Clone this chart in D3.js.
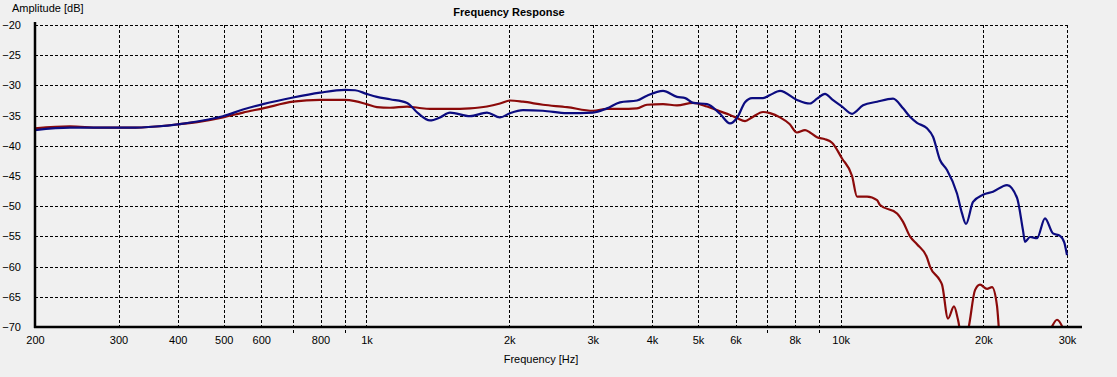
<!DOCTYPE html>
<html>
<head>
<meta charset="utf-8">
<script src="https://cdn.jsdelivr.net/npm/d3@7/dist/d3.min.js"></script>
<style>
  html, body { margin: 0; padding: 0; background: #f0f0f0; }
  svg { display: block; }
  text { font-family: "Liberation Sans", Arial, sans-serif; font-size: 11px; fill: #000; }
</style>
</head>
<body>
<svg id="chart" width="1117" height="377"></svg>
<script>
// ---- Data ----
const chartTitle = "Frequency Response";
const yAxisTitle = "Amplitude [dB]";
const xAxisTitle = "Frequency [Hz]";

const yTicks = [-20, -25, -30, -35, -40, -45, -50, -55, -60, -65, -70];
const xLabelFreqs = [200, 300, 400, 500, 600, 800, 1000, 2000, 3000, 4000, 5000, 6000, 8000, 10000, 20000, 30000];
const xLabelTexts = ["200", "300", "400", "500", "600", "800", "1k", "2k", "3k", "4k", "5k", "6k", "8k", "10k", "20k", "30k"];
const xMinorFreqs = [700, 900, 7000, 9000];
const xGridFreqs = [300, 400, 500, 600, 700, 800, 900, 1000, 2000, 3000, 4000, 5000, 6000, 7000, 8000, 9000, 10000, 20000, 30000];

const blueFreq = [200, 237, 274, 317, 360, 404, 446, 498, 549, 605, 700, 798, 901, 946, 1000, 1052, 1121, 1218, 1284, 1361, 1429, 1500, 1653, 1795, 1912, 2007, 2138, 2356, 2647, 3004, 3215, 3424, 3719, 3904, 4220, 4516, 4700, 4881, 5225, 5565, 5841, 6043, 6283, 6500, 6857, 7094, 7447, 8087, 8408, 8615, 8913, 9266, 9588, 10064, 10566, 11144, 11929, 12892, 13534, 13998, 14482, 15202, 15653, 16193, 16753, 17587, 18020, 18373, 19010, 19953, 20946, 22420, 23534, 24228, 24470, 25070, 25934, 26960, 28020, 29000, 29600, 30000];
const blueDb = [-37.4, -37.0, -37.0, -37.0, -36.8, -36.4, -35.9, -35.1, -34.0, -33.1, -32.0, -31.2, -30.75, -30.8, -31.4, -31.9, -32.3, -32.9, -34.6, -35.8, -35.3, -34.5, -35.1, -34.5, -35.3, -34.6, -34.1, -34.2, -34.6, -34.5, -33.8, -32.8, -32.5, -31.7, -30.9, -31.9, -32.1, -32.9, -33.1, -34.7, -36.3, -35.4, -32.8, -32.1, -32.1, -31.6, -30.9, -32.4, -32.9, -33.0, -32.2, -31.4, -32.3, -33.5, -34.7, -33.3, -32.7, -32.2, -33.8, -35.2, -36.2, -37.1, -38.5, -42.35, -44.0, -47.9, -51.2, -52.95, -49.3, -48.1, -47.6, -46.5, -48.6, -54.0, -55.9, -55.1, -55.3, -52.0, -54.5, -54.9, -56.0, -58.1];

const redFreq = [200, 237, 274, 317, 360, 404, 446, 498, 549, 605, 700, 798, 901, 946, 1000, 1052, 1121, 1218, 1284, 1361, 1500, 1653, 1795, 1912, 2007, 2138, 2356, 2647, 3004, 3215, 3424, 3719, 3904, 4220, 4516, 4881, 5225, 5565, 5841, 6043, 6283, 6500, 6857, 7094, 7447, 7800, 8087, 8408, 8615, 8913, 9266, 9588, 10064, 10566, 10825, 11364, 11929, 12103, 13146, 13534, 13998, 14482, 15202, 15426, 16193, 16353, 16835, 17332, 17672, 18020, 18552, 19194, 19666, 20346, 20844, 21356, 21670, 23000, 26000, 26960, 27760, 28580, 29428, 30000];
const redDb = [-37.1, -36.8, -37.0, -37.0, -36.8, -36.4, -36.0, -35.3, -34.5, -33.8, -32.7, -32.4, -32.4, -32.6, -33.1, -33.6, -33.7, -33.5, -33.7, -33.9, -33.9, -33.8, -33.5, -33.0, -32.5, -32.7, -33.2, -33.6, -34.2, -33.9, -33.9, -33.8, -33.2, -33.1, -33.3, -32.9, -33.5, -34.3, -34.9, -35.4, -35.9, -35.3, -34.4, -34.6, -35.3, -36.4, -37.8, -37.4, -37.8, -38.6, -38.9, -39.5, -42.1, -45.0, -48.4, -48.4, -49.0, -49.8, -51.2, -52.6, -55.0, -56.3, -58.5, -60.0, -62.3, -63.0, -68.6, -66.6, -68.8, -72, -70.5, -63.9, -63.0, -63.7, -63.4, -66.5, -72, -76, -76, -72, -70.2, -68.8, -70.2, -72];

const seriesColors = ["#8b0a0a", "#0c0c80"];

// ---- Layout ----
const L = 35, R = 1067, T = 25, B = 327;
const svg = d3.select("#chart");

const x = d3.scaleLog().domain([200, 30000]).range([L, R]);
const y = d3.scaleLinear().domain([-70, -20]).range([B, T]);

// Background
svg.append("rect").attr("width", 1117).attr("height", 377).attr("fill", "#f0f0f0");

// Horizontal gridlines
svg.append("g").selectAll("line").data(yTicks.filter(d => d !== -70)).join("line")
  .attr("x1", L).attr("x2", R)
  .attr("y1", d => Math.round(y(d)) + 0.5).attr("y2", d => Math.round(y(d)) + 0.5)
  .attr("stroke", "#000").attr("stroke-width", 1).attr("stroke-dasharray", "3,2");

// Vertical gridlines
svg.append("g").selectAll("line").data(xGridFreqs).join("line")
  .attr("x1", d => Math.round(x(d)) + 0.5).attr("x2", d => Math.round(x(d)) + 0.5)
  .attr("y1", T)
  .attr("y2", d => xMinorFreqs.includes(d) ? B + 6 : B)
  .attr("stroke", "#000").attr("stroke-width", 1).attr("stroke-dasharray", "3,2");

// Curves
svg.append("clipPath").attr("id", "plotclip")
  .append("rect").attr("x", L).attr("y", T - 5).attr("width", R - L + 1).attr("height", B - T + 5);

const line = d3.line().x(d => x(d[0])).y(d => y(d[1])).curve(d3.curveMonotoneX);
const redData = redFreq.map((f, i) => [f, redDb[i]]);
const blueData = blueFreq.map((f, i) => [f, blueDb[i]]);

const curves = svg.append("g").attr("clip-path", "url(#plotclip)");
curves.append("path").datum(redData).attr("d", line)
  .attr("fill", "none").attr("stroke", seriesColors[0]).attr("stroke-width", 2.2).attr("stroke-linejoin", "round");
curves.append("path").datum(blueData).attr("d", line)
  .attr("fill", "none").attr("stroke", seriesColors[1]).attr("stroke-width", 2.2).attr("stroke-linejoin", "round");

// Axes lines
svg.append("line").attr("x1", L).attr("x2", L).attr("y1", T - 3).attr("y2", B + 1)
  .attr("stroke", "#000").attr("stroke-width", 2.5);
svg.append("line").attr("x1", L - 1).attr("x2", 1082).attr("y1", B).attr("y2", B)
  .attr("stroke", "#000").attr("stroke-width", 2.5);

// Y tick labels
const yAxis = d3.axisLeft(y).tickValues(yTicks).tickSize(0).tickPadding(14).tickFormat(d3.format("d"));
const gy = svg.append("g").attr("transform", `translate(${L},0)`).call(yAxis);
gy.select(".domain").remove();
gy.selectAll("text").attr("font-family", null).attr("font-size", null).attr("fill", "#000");

// X tick labels
const xAxis = d3.axisBottom(x).tickValues(xLabelFreqs).tickSize(0).tickPadding(9)
  .tickFormat((d) => xLabelTexts[xLabelFreqs.indexOf(d)]);
const gx = svg.append("g").attr("transform", `translate(0,${B})`).call(xAxis);
gx.select(".domain").remove();
gx.selectAll("text").attr("font-family", null).attr("font-size", null).attr("fill", "#000");

// Titles
svg.append("text").attr("x", 509).attr("y", 15.5).attr("text-anchor", "middle")
  .attr("font-weight", "bold").text(chartTitle);
svg.append("text").attr("x", 12).attr("y", 11.5).text(yAxisTitle);
svg.append("text").attr("x", 541).attr("y", 363).attr("text-anchor", "middle").text(xAxisTitle);
</script>
</body>
</html>
